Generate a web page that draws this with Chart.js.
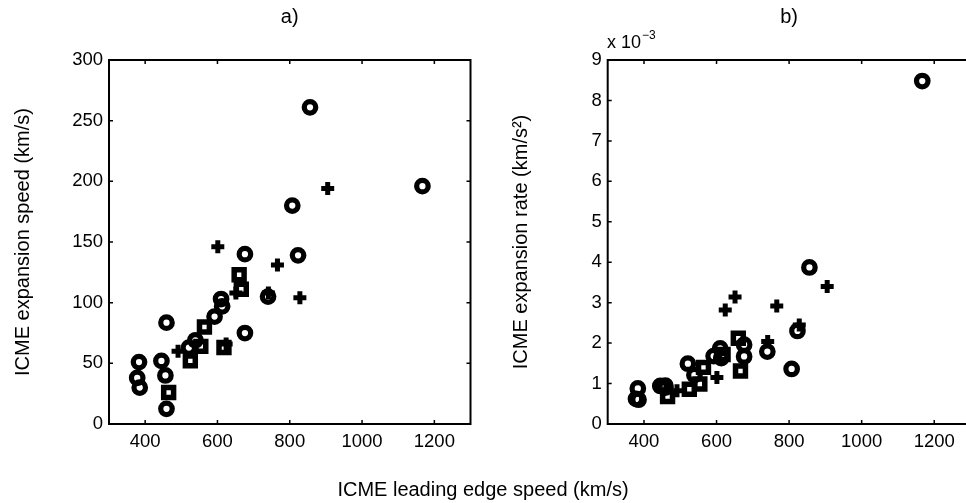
<!DOCTYPE html>
<html>
<head>
<meta charset="utf-8">
<script src="https://cdn.jsdelivr.net/npm/chart.js@4"></script>
<style>
  html, body { margin: 0; padding: 0; background: #fff; }
  body { width: 966px; height: 503px; overflow: hidden; position: relative; font-family: 'Liberation Sans', Arial, sans-serif; }
  canvas { position: absolute; top: 0; }
  #chartA { left: 0; }
  #chartB { left: 483px; }
  .lbl { position: absolute; color: #000; white-space: nowrap; }
</style>
</head>
<body>
<canvas id="chartA" width="483" height="503"></canvas>
<canvas id="chartB" width="500" height="503"></canvas>
<div class="lbl" id="xlabel" style="left:0; width:966px; top:478px; text-align:center; font-size:20px;">ICME leading edge speed (km/s)</div>
<div class="lbl" style="left:607px; top:32px; font-size:18px;">x 10<span style="font-size:12px; position:relative; top:-9px; margin-left:1px;">−3</span></div>

<script>
// leading edge speed (km/s), shared by both panels, one array per marker
const circleLE = [383, 378, 385, 445, 456, 459, 459, 521, 539, 592, 610, 613, 676, 676, 740, 807, 823, 856, 1167];
const squareLE = [465, 525, 554, 564, 618, 660, 666];
const plusLE = [491, 601, 624, 651, 741, 766, 828, 905];

// panel a: expansion speed (km/s)
const circleSpeed = [51, 38, 30, 52, 40, 83.5, 12.5, 63, 69, 88.5, 103, 97, 140, 75, 105, 180, 139, 261, 196];
const squareSpeed = [26, 52, 64, 80, 63, 123, 111];
const plusSpeed = [60, 146, 66, 108, 108, 131, 104, 194];

// panel b: expansion rate (x 10^-3 km/s^2)
const circleRate = [0.88, 0.62, 0.60, 0.94, 0.92, 0.95, 0.90, 1.49, 1.21, 1.68, 1.87, 1.63, 1.96, 1.67, 1.79, 1.36, 2.30, 3.87, 8.48];
const squareRate = [0.68, 0.86, 0.99, 1.40, 1.72, 2.12, 1.31];
const plusRate = [0.82, 1.15, 2.82, 3.14, 2.04, 2.92, 2.45, 3.40];

const xTicks = [400, 600, 800, 1000, 1200];
const yTicksA = [0, 50, 100, 150, 200, 250, 300];
const yTicksB = [0, 1, 2, 3, 4, 5, 6, 7, 8, 9];

const FONT = "'Liberation Sans', Arial, sans-serif";

function pts(xs, ys) {
    return xs.map((x, i) => ({ x: x, y: ys[i] }));
}

// matlab style box with inward tick marks, placed through the scales
const boxPlugin = {
    id: 'box',
    afterDraw(chart) {
        const ctx = chart.ctx;
        const a = chart.chartArea;
        const xs = chart.scales.x, ys = chart.scales.y;
        ctx.save();
        ctx.strokeStyle = '#000';
        ctx.lineWidth = 1.5;
        xs.ticks.forEach(t => {
            const px = xs.getPixelForValue(t.value);
            ctx.beginPath();
            ctx.moveTo(px, a.bottom); ctx.lineTo(px, a.bottom - 4);
            ctx.moveTo(px, a.top); ctx.lineTo(px, a.top + 4);
            ctx.stroke();
        });
        ys.ticks.forEach(t => {
            const py = ys.getPixelForValue(t.value);
            ctx.beginPath();
            ctx.moveTo(a.left, py); ctx.lineTo(a.left + 4, py);
            ctx.moveTo(a.right, py); ctx.lineTo(a.right - 4, py);
            ctx.stroke();
        });
        ctx.lineWidth = 2;
        ctx.strokeRect(a.left, a.top, a.right - a.left, a.bottom - a.top);
        ctx.restore();
    }
};

function makeChart(id, title, yTitle, yData, yTicks, yMax, yWidth, yTitlePad, padRight) {
    const datasets = [
        { data: pts(circleLE, yData[0]), pointStyle: 'circle', pointRadius: 5.75, pointBorderWidth: 5.25 },
        { data: pts(squareLE, yData[1]), pointStyle: 'rect', pointRadius: 7, pointBorderWidth: 5.5 },
        { data: pts(plusLE, yData[2]), pointStyle: 'cross', pointRadius: 6.5, pointBorderWidth: 5 }
    ].map(d => Object.assign(d, {
        borderColor: '#000',
        backgroundColor: 'rgba(0,0,0,0)',
        pointHoverRadius: d.pointRadius
    }));

    return new Chart(document.getElementById(id), {
        type: 'scatter',
        data: { datasets: datasets },
        options: {
            responsive: false,
            animation: false,
            layout: { padding: { left: 0, top: 0, bottom: 0, right: padRight } },
            plugins: {
                legend: { display: false },
                tooltip: { enabled: false },
                title: {
                    display: true,
                    text: title,
                    fullSize: false,
                    color: '#000',
                    font: { family: FONT, size: 20, weight: 'normal', lineHeight: 1.2 },
                    padding: { top: 5, bottom: 31 }
                }
            },
            scales: {
                x: {
                    type: 'linear',
                    min: 300,
                    max: 1300,
                    grid: { display: false, drawTicks: false },
                    border: { display: false },
                    afterBuildTicks: s => { s.ticks = xTicks.map(v => ({ value: v })); },
                    afterFit: s => { s.height = 79; },
                    ticks: { color: '#000', padding: 7, font: { family: FONT, size: 18.5 }, callback: v => String(v) }
                },
                y: {
                    type: 'linear',
                    min: 0,
                    max: yMax,
                    grid: { display: false, drawTicks: false },
                    border: { display: false },
                    afterBuildTicks: s => { s.ticks = yTicks.map(v => ({ value: v })); },
                    afterFit: s => { s.width = yWidth; },
                    ticks: { color: '#000', padding: 6, font: { family: FONT, size: 18.5 }, callback: v => String(v) },
                    title: {
                        display: true,
                        text: yTitle,
                        color: '#000',
                        font: { family: FONT, size: 20, lineHeight: 1.2 },
                        padding: { top: yTitlePad, bottom: 0 }
                    }
                }
            }
        },
        plugins: [boxPlugin]
    });
}

makeChart('chartA', 'a)', 'ICME expansion speed (km/s)',
    [circleSpeed, squareSpeed, plusSpeed], yTicksA, 300, 109, 11, 10.5);
makeChart('chartB', 'b)', 'ICME expansion rate (km/s²)',
    [circleRate, squareRate, plusRate], yTicksB, 9, 124.7, 26, 12);
</script>
</body>
</html>
